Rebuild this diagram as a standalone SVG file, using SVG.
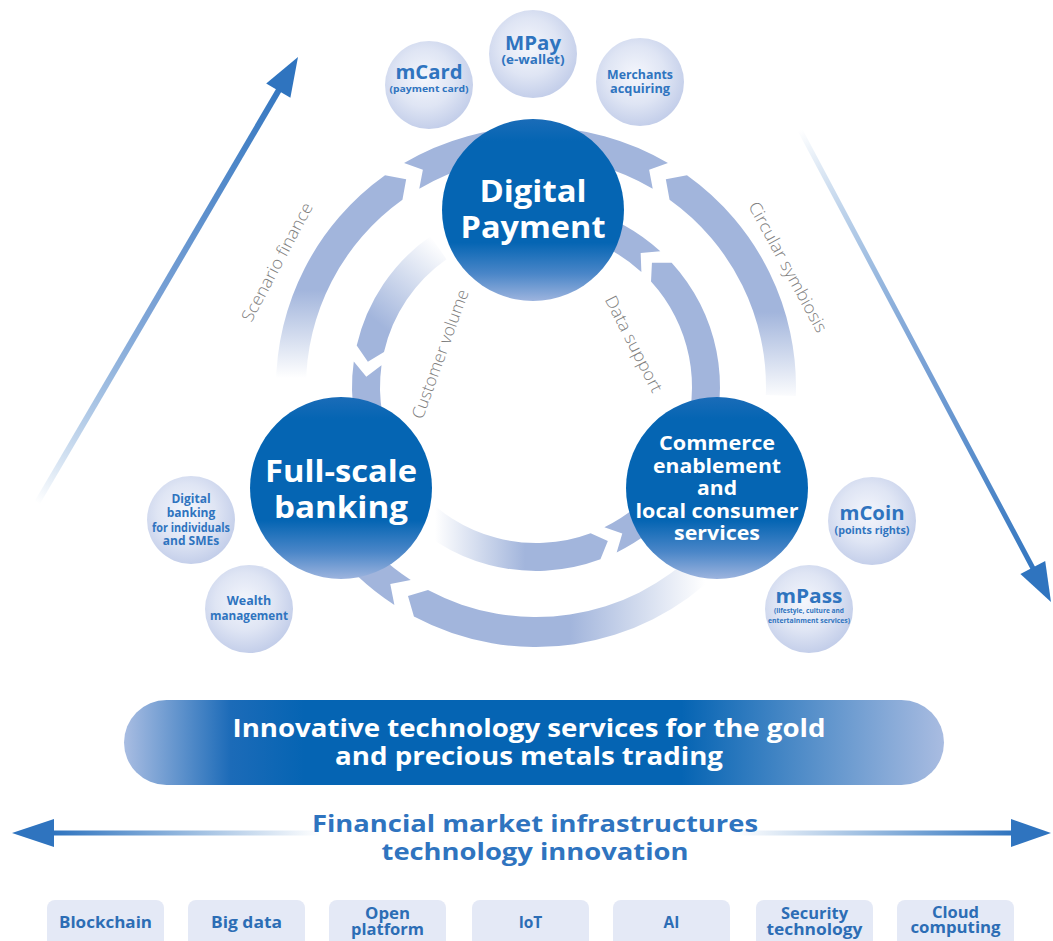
<svg xmlns="http://www.w3.org/2000/svg" width="1053" height="941" viewBox="0 0 1053 941">
<defs>
<style>
.big{fill:url(#gBig)}
.small{fill:url(#gSmall)}
.bt{font-family:"Open Sans","Liberation Sans",sans-serif;font-weight:700;fill:#ffffff;text-anchor:middle}
.st{font-family:"Open Sans","Liberation Sans",sans-serif;font-weight:700;fill:#2f74bf;text-anchor:middle}
.lbl{font-family:"Open Sans","Liberation Sans",sans-serif;font-weight:300;fill:#7f7f7f;font-size:17px;text-anchor:middle}
.ring{fill:#a2b5dc}
.box{fill:#e4e9f6}
.boxt{font-family:"Open Sans","Liberation Sans",sans-serif;font-weight:700;fill:#2c6db5;font-size:15.5px;text-anchor:middle}
.blue{fill:#2f74bf}
</style>
<linearGradient id="gBig" x1="0" y1="0" x2="0" y2="1">
<stop offset="0" stop-color="#1a6cb8"/>
<stop offset="0.12" stop-color="#0565b3"/>
<stop offset="0.68" stop-color="#0565b3"/>
<stop offset="0.85" stop-color="#4a86c8"/>
<stop offset="1" stop-color="#9db4de"/>
</linearGradient>
<radialGradient id="gSmall" cx="0.45" cy="0.42" r="0.6">
<stop offset="0" stop-color="#f4f6fc"/>
<stop offset="0.55" stop-color="#dfe5f4"/>
<stop offset="1" stop-color="#c2cde9"/>
</radialGradient>
<linearGradient id="gO1" gradientUnits="userSpaceOnUse" x1="0" y1="290" x2="0" y2="378">
<stop offset="0" stop-color="#a2b5dc"/>
<stop offset="1" stop-color="#a2b5dc" stop-opacity="0"/>
</linearGradient>
<linearGradient id="gO3" gradientUnits="userSpaceOnUse" x1="0" y1="312" x2="0" y2="400">
<stop offset="0" stop-color="#a2b5dc"/>
<stop offset="1" stop-color="#a2b5dc" stop-opacity="0"/>
</linearGradient>
<linearGradient id="gO4" gradientUnits="userSpaceOnUse" x1="570" y1="0" x2="705" y2="0">
<stop offset="0" stop-color="#a2b5dc"/>
<stop offset="1" stop-color="#a2b5dc" stop-opacity="0"/>
</linearGradient>
<linearGradient id="gI1" gradientUnits="userSpaceOnUse" x1="435" y1="240" x2="372" y2="318">
<stop offset="0" stop-color="#a2b5dc" stop-opacity="0"/>
<stop offset="1" stop-color="#a2b5dc"/>
</linearGradient>
<linearGradient id="gI5" gradientUnits="userSpaceOnUse" x1="435" y1="0" x2="525" y2="0">
<stop offset="0" stop-color="#a2b5dc" stop-opacity="0"/>
<stop offset="1" stop-color="#a2b5dc"/>
</linearGradient>
<linearGradient id="gDL" gradientUnits="userSpaceOnUse" x1="37" y1="503" x2="290" y2="70">
<stop offset="0" stop-color="#2f74bf" stop-opacity="0"/>
<stop offset="0.45" stop-color="#7ca3d6"/>
<stop offset="1" stop-color="#2f74bf"/>
</linearGradient>
<linearGradient id="gDR" gradientUnits="userSpaceOnUse" x1="800" y1="130" x2="1040" y2="585">
<stop offset="0" stop-color="#2f74bf" stop-opacity="0"/>
<stop offset="0.5" stop-color="#7ca3d6"/>
<stop offset="1" stop-color="#2f74bf"/>
</linearGradient>
<linearGradient id="gHL" gradientUnits="userSpaceOnUse" x1="54" y1="0" x2="320" y2="0">
<stop offset="0" stop-color="#2f74bf"/>
<stop offset="1" stop-color="#2f74bf" stop-opacity="0"/>
</linearGradient>
<linearGradient id="gHR" gradientUnits="userSpaceOnUse" x1="735" y1="0" x2="1012" y2="0">
<stop offset="0" stop-color="#2f74bf" stop-opacity="0"/>
<stop offset="1" stop-color="#2f74bf"/>
</linearGradient>
<linearGradient id="gPill" x1="0" y1="0" x2="1" y2="0">
<stop offset="0" stop-color="#a9bde2"/>
<stop offset="0.13" stop-color="#1c6bb8"/>
<stop offset="0.22" stop-color="#0564b3"/>
<stop offset="0.68" stop-color="#0564b3"/>
<stop offset="1" stop-color="#a9bce1"/>
</linearGradient>
</defs>
<rect width="1053" height="941" fill="#ffffff"/>

<g id="connectors">
<!-- outer ring -->
<path style="fill:url(#gO1)" d="M276,387 A260,260 0 0 1 385.02,175.33 L406.17,179.24 L402.44,199.76 A230,230 0 0 0 306,387 Z"/>
<path class="ring" d="M404.05,162.98 A260,260 0 0 1 667.95,162.98 L649.12,169.68 L652.73,188.83 A230,230 0 0 0 419.27,188.83 L422.88,169.68 Z"/>
<path style="fill:url(#gO3)" d="M686.98,175.33 A260,260 0 0 1 795.84,396.07 L765.86,395.03 A230,230 0 0 0 669.56,199.76 L665.83,179.24 Z"/>
<path style="fill:url(#gO4)" d="M719.85,570.85 A260,260 0 0 1 413.93,616.56 L407.99,595.89 L428.01,590.07 A230,230 0 0 0 698.63,549.63 Z"/>
<path class="ring" d="M394.40,605.06 A260,260 0 0 1 284.87,454.29 L313.84,446.52 A230,230 0 0 0 410.74,579.90 L390.27,583.96 Z"/>
<!-- inner ring -->
<path style="fill:url(#gI1)" d="M356.71,345.60 A184,184 0 0 1 430.46,236.27 L446.52,259.20 A156,156 0 0 0 383.99,351.90 L367.87,361.87 Z"/>
<path class="ring" d="M354.80,418.94 A184,184 0 0 1 353.79,361.39 L366.32,376.63 L381.51,365.28 A156,156 0 0 0 382.37,414.08 Z"/>
<path class="ring" d="M671.66,262.69 A184,184 0 0 1 708.90,449.93 L682.59,440.35 A156,156 0 0 0 651.02,281.61 L651.94,262.66 Z"/>
<path class="ring" d="M583.62,209.27 A184,184 0 0 1 660.31,251.34 L640.67,253.04 L641.39,271.98 A156,156 0 0 0 576.37,236.32 Z"/>
<path style="fill:url(#gI5)" d="M600.44,559.35 A184,184 0 0 1 395.06,505.28 L416.50,487.28 A156,156 0 0 0 590.63,533.13 L607.84,541.07 Z"/>
<path class="ring" d="M695.35,479 A184,184 0 0 1 616.66,552.38 L622.28,533.47 L604.39,527.21 A156,156 0 0 0 671.10,465 Z"/>
<!-- diagonal arrows -->
<line x1="37" y1="503" x2="283" y2="83" stroke="url(#gDL)" stroke-width="6"/>
<polygon class="blue" points="298,57 290.4,97.8 266.2,83.6"/>
<line x1="800" y1="130" x2="1036" y2="574" stroke="url(#gDR)" stroke-width="5"/>
<polygon class="blue" points="1051,602 1045.2,561 1020.4,574"/>
<!-- horizontal double arrow -->
<line x1="50" y1="833" x2="320" y2="833" stroke="url(#gHL)" stroke-width="5"/>
<line x1="735" y1="833" x2="1015" y2="833" stroke="url(#gHR)" stroke-width="5"/>
<polygon class="blue" points="12,833 54,819 54,847"/>
<polygon class="blue" points="1051,833 1011,819 1011,847"/>
<!-- ring labels -->
<text class="lbl" transform="translate(277,262) rotate(-62)" x="0" y="6" textLength="132" lengthAdjust="spacingAndGlyphs">Scenario finance</text>
<text class="lbl" transform="translate(788,267) rotate(61.5)" x="0" y="6" textLength="146" lengthAdjust="spacingAndGlyphs">Circular symbiosis</text>
<text class="lbl" transform="translate(440,354) rotate(-70)" x="0" y="6" textLength="136" lengthAdjust="spacingAndGlyphs">Customer volume</text>
<text class="lbl" transform="translate(634,344) rotate(63)" x="0" y="6" textLength="106" lengthAdjust="spacingAndGlyphs">Data support</text>
</g>

<g id="node-digital-payment">
<circle class="big" cx="533" cy="210" r="91"/>
<text class="bt" x="533" y="202" font-size="30" textLength="107" lengthAdjust="spacingAndGlyphs">Digital</text>
<text class="bt" x="533" y="238" font-size="30" textLength="145" lengthAdjust="spacingAndGlyphs">Payment</text>
</g>
<g id="node-full-scale-banking">
<circle class="big" cx="341" cy="488" r="91"/>
<text class="bt" x="341" y="482" font-size="30" textLength="152" lengthAdjust="spacingAndGlyphs">Full-scale</text>
<text class="bt" x="341" y="518" font-size="30" textLength="134" lengthAdjust="spacingAndGlyphs">banking</text>
</g>
<g id="node-commerce">
<circle class="big" cx="717" cy="488" r="91"/>
<text class="bt" x="717" y="450" font-size="19.5" textLength="116" lengthAdjust="spacingAndGlyphs">Commerce</text>
<text class="bt" x="717" y="473" font-size="19.5" textLength="128" lengthAdjust="spacingAndGlyphs">enablement</text>
<text class="bt" x="717" y="495" font-size="19.5" textLength="40" lengthAdjust="spacingAndGlyphs">and</text>
<text class="bt" x="717" y="518" font-size="19.5" textLength="163" lengthAdjust="spacingAndGlyphs">local consumer</text>
<text class="bt" x="717" y="540" font-size="19.5" textLength="86" lengthAdjust="spacingAndGlyphs">services</text>
</g>

<g id="node-mcard">
<circle class="small" cx="429" cy="85" r="44"/>
<text class="st" x="429" y="79" font-size="19" textLength="67" lengthAdjust="spacingAndGlyphs">mCard</text>
<text class="st" x="429" y="92" font-size="9.5" textLength="79" lengthAdjust="spacingAndGlyphs">(payment card)</text>
</g>
<g id="node-mpay">
<circle class="small" cx="533" cy="54" r="44"/>
<text class="st" x="533" y="50" font-size="19" textLength="56" lengthAdjust="spacingAndGlyphs">MPay</text>
<text class="st" x="533" y="64" font-size="11.5" textLength="63" lengthAdjust="spacingAndGlyphs">(e-wallet)</text>
</g>
<g id="node-merchants">
<circle class="small" cx="640" cy="82" r="44"/>
<text class="st" x="640" y="79" font-size="12.5" textLength="66" lengthAdjust="spacingAndGlyphs">Merchants</text>
<text class="st" x="640" y="93" font-size="12.5" textLength="60" lengthAdjust="spacingAndGlyphs">acquiring</text>
</g>
<g id="node-digital-banking">
<circle class="small" cx="191" cy="520" r="44"/>
<text class="st" x="191" y="503" font-size="12">Digital</text>
<text class="st" x="191" y="517" font-size="12">banking</text>
<text class="st" x="191" y="532" font-size="12" textLength="78" lengthAdjust="spacingAndGlyphs">for individuals</text>
<text class="st" x="191" y="545" font-size="12">and SMEs</text>
</g>
<g id="node-wealth">
<circle class="small" cx="249" cy="609" r="44"/>
<text class="st" x="249" y="605" font-size="12.5">Wealth</text>
<text class="st" x="249" y="620" font-size="12.5" textLength="78" lengthAdjust="spacingAndGlyphs">management</text>
</g>
<g id="node-mcoin">
<circle class="small" cx="872" cy="521" r="44"/>
<text class="st" x="872" y="520" font-size="19" textLength="65" lengthAdjust="spacingAndGlyphs">mCoin</text>
<text class="st" x="872" y="534" font-size="10" textLength="75" lengthAdjust="spacingAndGlyphs">(points rights)</text>
</g>
<g id="node-mpass">
<circle class="small" cx="809" cy="609" r="44"/>
<text class="st" x="809" y="603" font-size="19" textLength="67" lengthAdjust="spacingAndGlyphs">mPass</text>
<text class="st" x="809" y="613" font-size="7.5" textLength="70" lengthAdjust="spacingAndGlyphs">(lifestyle, culture and</text>
<text class="st" x="809" y="623" font-size="7.5" textLength="82" lengthAdjust="spacingAndGlyphs">entertainment services)</text>
</g>

<g id="node-gold">
<rect x="124" y="700" width="820" height="85" rx="42.5" fill="url(#gPill)"/>
<text class="bt" x="529" y="737" font-size="25" textLength="593" lengthAdjust="spacingAndGlyphs">Innovative technology services for the gold</text>
<text class="bt" x="529" y="765" font-size="25" textLength="388" lengthAdjust="spacingAndGlyphs">and precious metals trading</text>
</g>

<g id="node-fmi">
<text class="st" x="535" y="832" font-size="24" textLength="446" lengthAdjust="spacingAndGlyphs">Financial market infrastructures</text>
<text class="st" x="535" y="860" font-size="24" textLength="307" lengthAdjust="spacingAndGlyphs">technology innovation</text>
</g>

<g id="node-blockchain"><rect class="box" x="47" y="900" width="117" height="50" rx="8"/><text class="boxt" x="105.5" y="928" textLength="93" lengthAdjust="spacingAndGlyphs">Blockchain</text></g>
<g id="node-bigdata"><rect class="box" x="188" y="900" width="117" height="50" rx="8"/><text class="boxt" x="246.5" y="928" textLength="71" lengthAdjust="spacingAndGlyphs">Big data</text></g>
<g id="node-open"><rect class="box" x="329" y="900" width="117" height="50" rx="8"/><text class="boxt" x="387.5" y="919" font-size="14.5" textLength="45" lengthAdjust="spacingAndGlyphs">Open</text><text class="boxt" x="387.5" y="935" font-size="14.5" textLength="73" lengthAdjust="spacingAndGlyphs">platform</text></g>
<g id="node-iot"><rect class="box" x="472" y="900" width="117" height="50" rx="8"/><text class="boxt" x="530.5" y="928" font-size="16.5">IoT</text></g>
<g id="node-ai"><rect class="box" x="613" y="900" width="117" height="50" rx="8"/><text class="boxt" x="671.5" y="928" font-size="16.5">AI</text></g>
<g id="node-security"><rect class="box" x="756" y="900" width="117" height="50" rx="8"/><text class="boxt" x="814.5" y="919" font-size="14.5" textLength="67" lengthAdjust="spacingAndGlyphs">Security</text><text class="boxt" x="814.5" y="935" font-size="14.5" textLength="96" lengthAdjust="spacingAndGlyphs">technology</text></g>
<g id="node-cloud"><rect class="box" x="897" y="900" width="117" height="50" rx="8"/><text class="boxt" x="955.5" y="918" font-size="14.5" textLength="47" lengthAdjust="spacingAndGlyphs">Cloud</text><text class="boxt" x="955.5" y="933" font-size="14.5" textLength="90" lengthAdjust="spacingAndGlyphs">computing</text></g>
</svg>
